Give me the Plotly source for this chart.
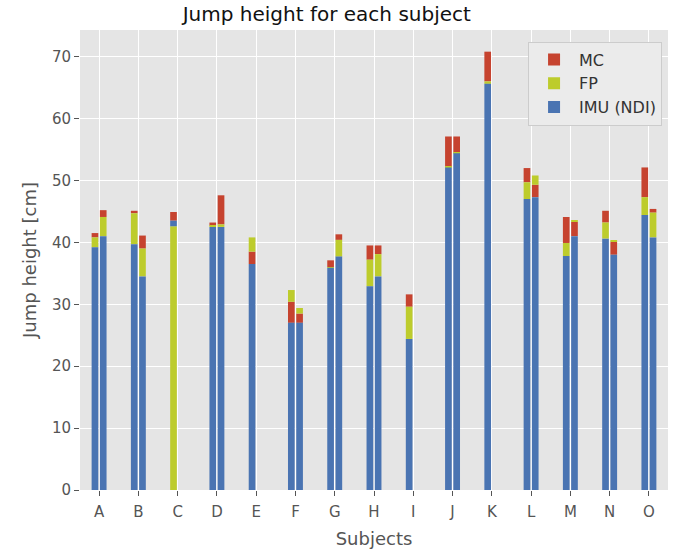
import plotly.graph_objects as go

subjects = list("ABCDEFGHIJKLMNO")
series_names = ["MC", "FP", "IMU (NDI)"]

# trial 1 (left bar of each subject)
mc_t1 = [41.5, 45.1, 44.9, 43.2, 38.5, 30.4, 37.1, 39.5, 31.6, 57.1, 70.8, 52.0, 44.1, 45.1, 52.1]
fp_t1 = [40.8, 44.7, 42.6, 42.7, 40.8, 32.3, 36.0, 37.2, 29.6, 52.2, 66.0, 49.7, 39.9, 43.2, 47.3]
imu_t1 = [39.2, 39.7, 43.5, 42.5, 36.5, 27.0, 35.9, 32.9, 24.4, 52.1, 65.6, 47.0, 37.8, 40.6, 44.4]
# trial 2 (right bar of each subject)
mc_t2 = [45.2, 41.1, None, 47.6, None, 28.5, 41.3, 39.5, None, 57.1, None, 49.3, 43.3, 40.1, 45.4]
fp_t2 = [44.1, 39.0, None, 42.9, None, 29.4, 40.4, 38.1, None, 54.5, None, 50.8, 43.6, 40.3, 44.8]
imu_t2 = [41.0, 34.5, None, 42.5, None, 27.0, 37.7, 34.5, None, 54.4, None, 47.3, 41.0, 38.0, 40.8]

colors = {"MC": "#C6432F", "FP": "#BDCC2C", "IMU (NDI)": "#4A74B2"}

trials = [
    ("1", {"MC": mc_t1, "FP": fp_t1, "IMU (NDI)": imu_t1}),
    ("2", {"MC": mc_t2, "FP": fp_t2, "IMU (NDI)": imu_t2}),
]

fig = go.Figure()

# each bar shows the three measurements overlaid, the smallest one in front:
# draw every series as the segment from the next smaller value up to its own value
for tname, data in trials:
    for name in series_names:
        ys, bases, xs = [], [], []
        for i, s in enumerate(subjects):
            v = data[name][i]
            if v is None:
                continue
            others = [data[o][i] for o in series_names if o != name and data[o][i] is not None]
            lower = [o for o in others if o < v]
            b = max(lower) if lower else 0.0
            xs.append(s)
            ys.append(v - b)
            bases.append(b)
        fig.add_trace(go.Bar(
            x=xs, y=ys, base=bases, name=name,
            marker=dict(color=colors[name], line=dict(width=0)),
            offsetgroup=tname, legendgroup=name,
            showlegend=(tname == "1"),
        ))

fig.update_layout(
    width=688, height=559,
    barmode="group", bargap=0.58, bargroupgap=0.19,
    paper_bgcolor="white", plot_bgcolor="#E5E5E5",
    margin=dict(l=80, r=20, t=30, b=69),
    font=dict(family="DejaVu Sans", size=15, color="#555555"),
    title=dict(text="Jump height for each subject", x=0.475, xanchor="center",
               y=1 - 14 / 559, yanchor="middle", yref="container",
               font=dict(size=20, color="#111111")),
    legend=dict(x=0.762, y=0.975, xanchor="left", yanchor="top",
                bgcolor="#EBEBEB", bordercolor="#CCCCCC", borderwidth=1,
                font=dict(size=16, color="#333333"), traceorder="normal",
                itemwidth=40),
    xaxis=dict(categoryorder="array", categoryarray=subjects,
               range=[-0.486, 14.486], showgrid=True, gridcolor="white", gridwidth=1,
               ticks="outside", ticklen=5, tickcolor="#555555", ticklabelstandoff=3,
               title=dict(text="Subjects", font=dict(size=18, color="#555555"), standoff=12),
               zeroline=False, showline=False),
    yaxis=dict(range=[0, 74.3], tickvals=[0, 10, 20, 30, 40, 50, 60, 70],
               showgrid=True, gridcolor="white", gridwidth=1,
               ticks="outside", ticklen=5, tickcolor="#555555",
               title=dict(text="Jump height [cm]", font=dict(size=18, color="#555555"), standoff=10),
               zeroline=False, showline=False),
)

fig.write_html("out.html", config={"displayModeBar": False},
               post_script="document.body.style.margin='0';")
